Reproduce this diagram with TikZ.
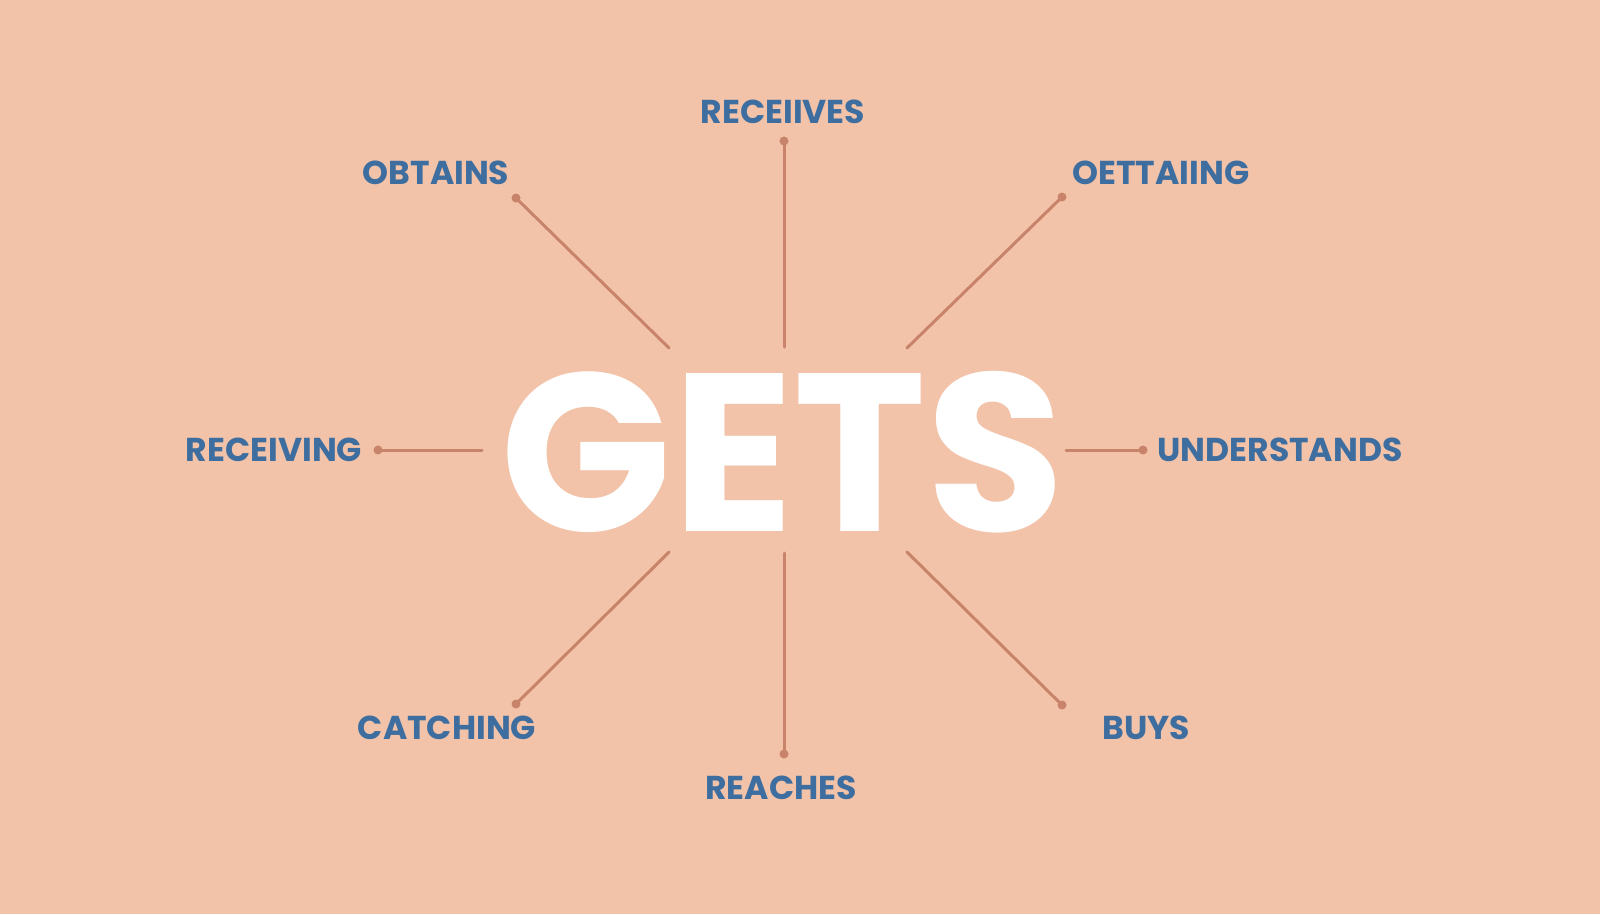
\documentclass[tikz,border=0pt]{standalone}
\usepackage{fontspec}
\newfontfamily\popfont{Poppins}
\usetikzlibrary{positioning}
\definecolor{peach}{HTML}{F2C3A9}
\definecolor{spoke}{HTML}{C8846A}
\definecolor{wordblue}{HTML}{3E6E9F}
\begin{document}
\begin{tikzpicture}[x=0.01cm, y=-0.01cm, every node/.style={inner sep=0pt},
		word/.style={text=wordblue, font=\popfont\bfseries\fontsize{9.4}{11}\selectfont},
		spokeline/.style={draw=spoke, line width=0.85pt, line cap=round}]
			\fill[peach] (0,0) rectangle (1600,914);
			\useasboundingbox (0,0) rectangle (1600,914);

			\node[text=white, font=\popfont\bfseries\fontsize{64}{70}\selectfont] (gets) at (783,452) {GETS};

			\node[word] (receives) at (783,112) {RECEIIVES};
			\node[word] (obtains) at (436,173) {OBTAINS};
			\node[word] (oettaiing) at (1161,173) {OETTAIING};
			\node[word] (receiving) at (274,450) {RECEIVING};
			\node[word] (understands) at (1280,450) {UNDERSTANDS};
			\node[word] (catching) at (447,728) {CATCHING};
			\node[word] (reaches) at (781,788) {REACHES};
			\node[word] (buys) at (1146,728) {BUYS};

			\coordinate (n1) at (784,141);  \coordinate (n0) at (784,347);
			\coordinate (nw1) at (516,198); \coordinate (nw0) at (669,348);
			\coordinate (ne1) at (1062,197); \coordinate (ne0) at (907,348);
			\coordinate (w1) at (378,450);  \coordinate (w0) at (482,450);
			\coordinate (e1) at (1143,450); \coordinate (e0) at (1066,450);
			\coordinate (sw1) at (516,704); \coordinate (sw0) at (669,552);
			\coordinate (s1) at (784,754);  \coordinate (s0) at (784,553);
			\coordinate (se1) at (1062,705); \coordinate (se0) at (907,552);

			\foreach \d in {n,nw,ne,w,e,sw,s,se} {
				\draw[spokeline] (\d0) -- (\d1);
				\fill[spoke] (\d1) circle (0.045cm);
			}
		\end{tikzpicture}
\end{document}
